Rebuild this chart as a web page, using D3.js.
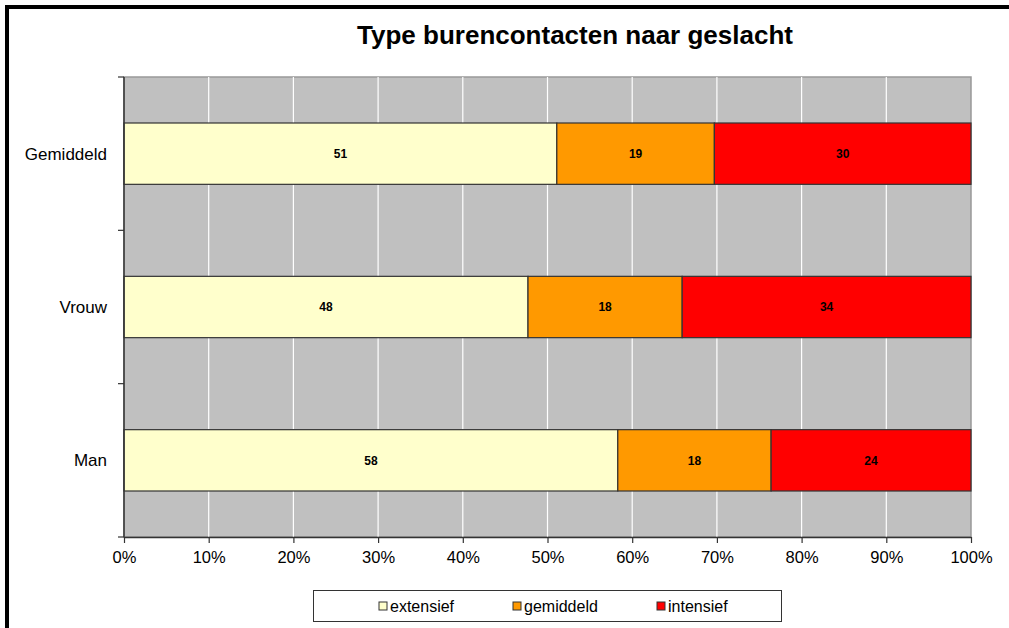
<!DOCTYPE html>
<html>
<head>
<meta charset="utf-8">
<script src="https://cdn.jsdelivr.net/npm/d3@7"></script>
<style>
  html, body { margin: 0; padding: 0; background: #fff; }
  svg { display: block; font-family: Arial, "Liberation Sans", sans-serif; }
</style>
</head>
<body>
<svg id="chart" width="1009" height="628"></svg>
<script>
const title = "Type burencontacten naar geslacht";
const categories = ["Gemiddeld", "Vrouw", "Man"];
const seriesNames = ["extensief", "gemiddeld", "intensief"];
const seriesColors = ["#FFFFCC", "#FF9900", "#FF0000"];
const extensief = [51.1, 47.7, 58.3];
const gemiddeld = [18.6, 18.2, 18.1];
const intensief = [30.3, 34.1, 23.6];
const xTicks = [0, 10, 20, 30, 40, 50, 60, 70, 80, 90, 100];

const svg = d3.select("#chart");

// Outer frame (top + left black border)
svg.append("rect").attr("x", 7).attr("y", 7).attr("width", 1009).attr("height", 700)
  .attr("fill", "none").attr("stroke", "#000").attr("stroke-width", 4);

const plot = { left: 124, right: 971, top: 77, bottom: 537 };

const x = d3.scaleLinear().domain([0, 100]).range([plot.left, plot.right]);
const y = d3.scaleBand().domain(categories).range([plot.top, plot.bottom]).paddingInner(0.6).paddingOuter(0.3);
const yOuter = d3.scaleBand().domain(categories).range([plot.top, plot.bottom]);

// Plot background
svg.append("rect").attr("x", plot.left).attr("y", plot.top)
  .attr("width", plot.right - plot.left).attr("height", plot.bottom - plot.top)
  .attr("fill", "#C0C0C0").attr("stroke", "#999").attr("stroke-width", 1.5);

// Gridlines
svg.append("g").selectAll("line").data(xTicks.slice(1, -1)).join("line")
  .attr("x1", d => x(d)).attr("x2", d => x(d))
  .attr("y1", plot.top).attr("y2", plot.bottom)
  .attr("stroke", "#fff").attr("stroke-width", 1.2);

// Stacked data
const rows = categories.map((c, i) => ({ cat: c, extensief: extensief[i], gemiddeld: gemiddeld[i], intensief: intensief[i] }));
const stack = d3.stack().keys(seriesNames)(rows);

stack.forEach((layer, li) => {
  const g = svg.append("g");
  g.selectAll("rect").data(layer).join("rect")
    .attr("x", d => x(d[0]))
    .attr("y", d => y(d.data.cat))
    .attr("width", d => x(d[1]) - x(d[0]))
    .attr("height", y.bandwidth())
    .attr("fill", seriesColors[li])
    .attr("stroke", "#333").attr("stroke-width", 1.2);
  g.selectAll("text").data(layer).join("text")
    .attr("x", d => (x(d[0]) + x(d[1])) / 2)
    .attr("y", d => y(d.data.cat) + y.bandwidth() / 2)
    .attr("dy", "0.36em")
    .attr("text-anchor", "middle")
    .attr("font-size", 12).attr("font-weight", "bold").attr("fill", "#000")
    .text(d => Math.round(d[1] - d[0]));
});

// X axis
const xAxis = d3.axisBottom(x).tickValues(xTicks).tickFormat(d => d + "%").tickSize(6).tickSizeOuter(0);
const gx = svg.append("g").attr("transform", `translate(0,${plot.bottom})`).call(xAxis);
gx.select(".domain").attr("stroke", "#333").attr("stroke-width", 1.5);
gx.selectAll(".tick line").attr("stroke", "#333").attr("stroke-width", 1.2);
gx.selectAll(".tick text").attr("font-size", 16.5).attr("fill", "#000").attr("dy", "1.0em").attr("y", 9);

// Y axis line + ticks at band boundaries
svg.append("line").attr("x1", plot.left).attr("x2", plot.left)
  .attr("y1", plot.top).attr("y2", plot.bottom).attr("stroke", "#333").attr("stroke-width", 1.5);
const boundaries = categories.map(c => yOuter(c)).concat([plot.bottom]);
svg.append("g").selectAll("line").data(boundaries).join("line")
  .attr("x1", plot.left - 6).attr("x2", plot.left)
  .attr("y1", d => d).attr("y2", d => d)
  .attr("stroke", "#333").attr("stroke-width", 1.2);
svg.append("g").selectAll("text").data(categories).join("text")
  .attr("x", 107)
  .attr("y", d => y(d) + y.bandwidth() / 2)
  .attr("dy", "0.36em")
  .attr("text-anchor", "end")
  .attr("font-size", 17).attr("fill", "#000")
  .text(d => d);

// Title
svg.append("text").attr("x", 575).attr("y", 44)
  .attr("text-anchor", "middle").attr("font-size", 26).attr("font-weight", "bold")
  .attr("fill", "#000").text(title);

// Legend
const lg = svg.append("g");
lg.append("rect").attr("x", 313.5).attr("y", 590.5).attr("width", 468).attr("height", 31)
  .attr("fill", "#fff").attr("stroke", "#333").attr("stroke-width", 1);
const legendX = [379, 513, 657];
seriesNames.forEach((s, i) => {
  lg.append("rect").attr("x", legendX[i]).attr("y", 602).attr("width", 8).attr("height", 8)
    .attr("fill", seriesColors[i]).attr("stroke", "#333").attr("stroke-width", 1);
  lg.append("text").attr("x", legendX[i] + 11).attr("y", 606).attr("dy", "0.36em")
    .attr("font-size", 16).attr("fill", "#000").text(s);
});
</script>
</body>
</html>
